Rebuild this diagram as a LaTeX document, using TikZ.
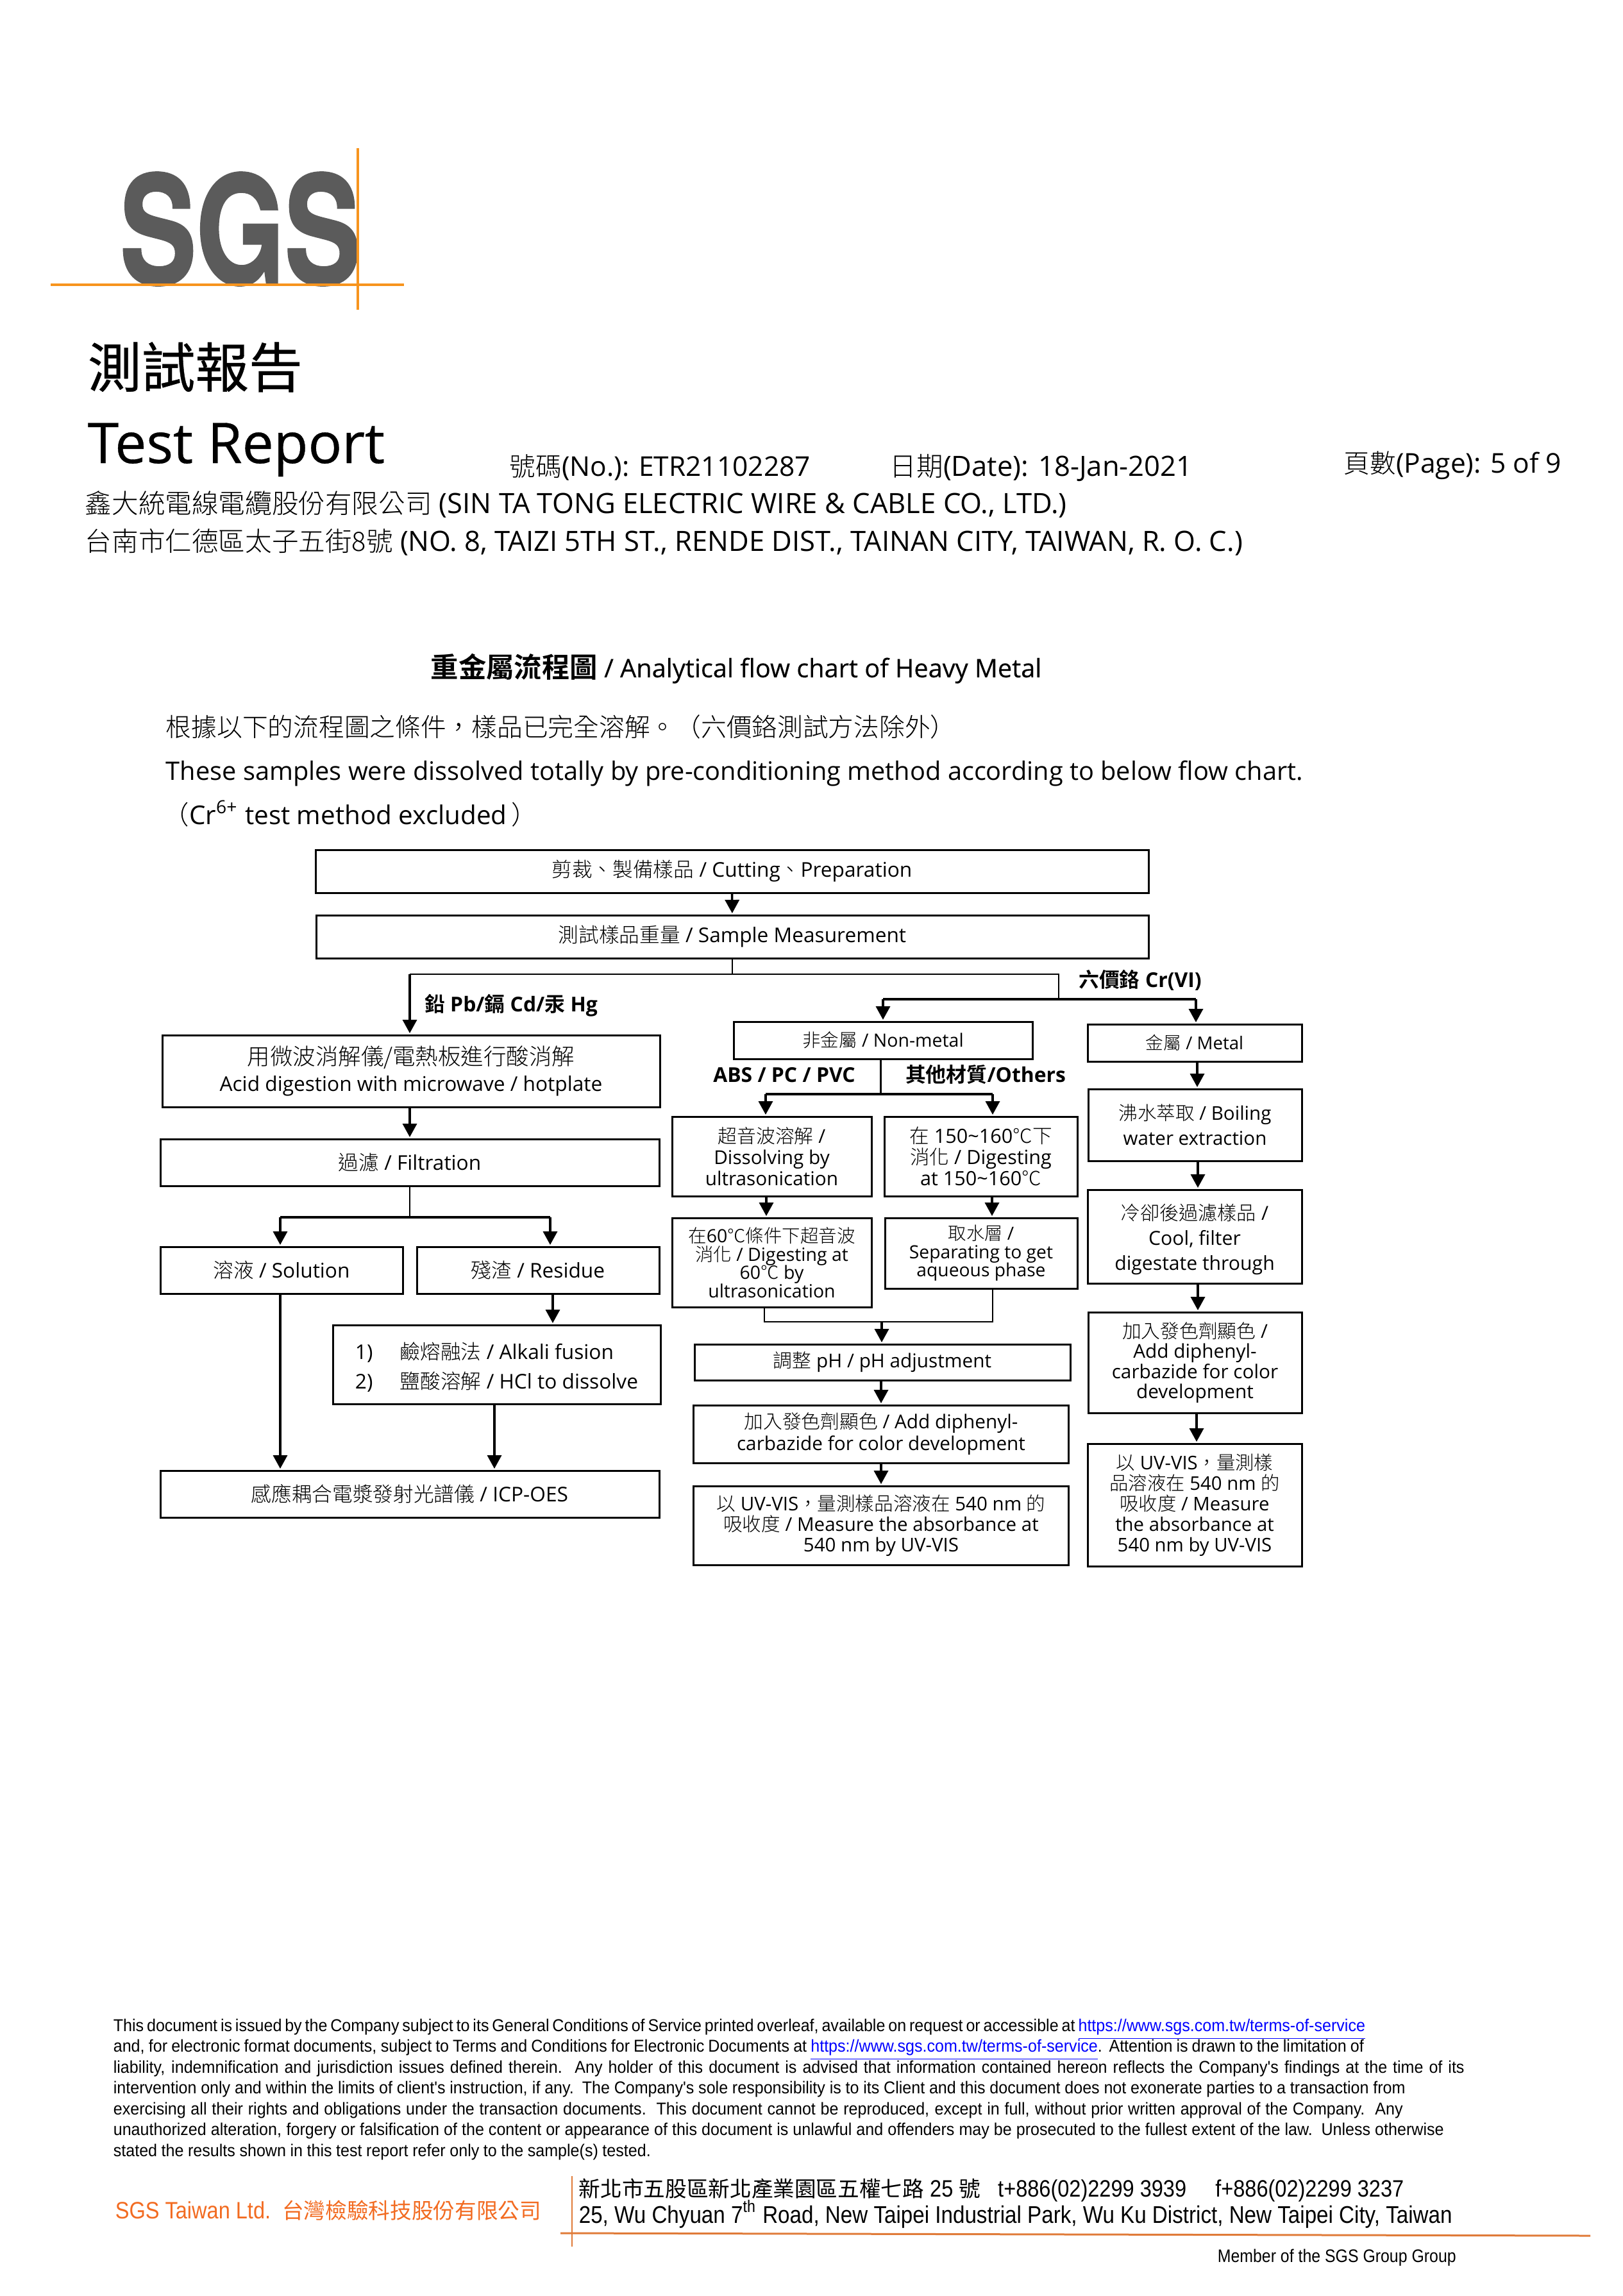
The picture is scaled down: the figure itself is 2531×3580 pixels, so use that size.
\documentclass[tikz,border=0pt]{standalone}
\usepackage{fontspec}
\usepackage{xcolor}
\usetikzlibrary{arrows.meta}
\setmainfont{Open Sans}
\newfontfamily\semifont[FakeBold=0.4]{Open Sans}
\newfontfamily\cjk[BoldFont={Noto Sans CJK TC Bold}]{Noto Sans CJK TC Light}
\newfontfamily\headzh[Scale=0.955]{Noto Sans CJK TC Light}
\newfontfamily\flowzh[Scale=1.12]{Noto Sans CJK TC Light}
\newfontfamily\titlezh[FakeBold=0.5]{Noto Sans CJK TC}
\newfontfamily\finefont[FakeStretch=0.937]{Liberation Sans}
\newfontfamily\finecjk[Scale=0.91]{Noto Sans CJK TC}
\newfontfamily\footfont[FakeStretch=0.88]{Liberation Sans}
\newfontfamily\logofont[FakeBold=1.6]{TeX Gyre Heros Bold}
\newlength{\px}
\setlength{\px}{0.2353pt}
\definecolor{sgsorange}{HTML}{F7941D}
\definecolor{sgsgray}{HTML}{5B5B5B}
\definecolor{footorange}{HTML}{F26B21}
\definecolor{ruleorange}{HTML}{E07B39}
\newcommand{\fineline}[4]{\node[finetext] (#1) at (176,#2) {\spaceskip=.18em plus 1fil\relax\makebox[#3\px][s]{#4}};}
\newcommand{\tolink}{\textcolor{blue}{\underline{https://www.sgs.com.tw/terms-of-service}}}

\begin{document}
\begin{tikzpicture}[
    x=\px, y=-\px,
    flowbox/.style 2 args={draw, line width=3*\px, inner sep=0pt, outer sep=0pt, align=center, minimum width=#1*\px, minimum height=#2*\px, font=\fontsize{7.45}{9}\selectfont},
    textsize/.style 2 args={font=\fontsize{#1}{#2}\selectfont},
    conn/.style={line width=3.5*\px, shorten <=2*\px},
    arr/.style={conn, -{Triangle[length=4.94pt, width=5.18pt]}, shorten >=3*\px},
    thinconn/.style={line width=2.5*\px},
    boldtag/.style={inner sep=0pt, font=\fontsize{7.5}{9}\selectfont\bfseries},
    headtext/.style={anchor=base west, inner sep=0pt, font=\fontsize{10.25}{12}\selectfont},
    bodytext/.style={anchor=base west, inner sep=0pt, font=\fontsize{9.35}{12}\selectfont},
    finetext/.style={anchor=base west, inner sep=0pt, font=\fontsize{6.3}{7.7}\finefont},
    foottext/.style={anchor=base west, inner sep=0pt, font=\fontsize{8.7}{9}\footfont}
]

\useasboundingbox (0,0) rectangle (2531,3580);

\node[inner sep=0pt, text=sgsgray, font=\fontsize{55}{60}\logofont] (logo) at (375,357) {\scalebox{0.76}[1]{SGS}};
\coordinate (logoleft) at (79,444);
\coordinate (logoright) at (630,444);
\coordinate (logotop) at (558,231);
\coordinate (logobottom) at (558,483);
\draw[sgsorange, line width=4.5*\px] (logoleft) -- (logoright);
\draw[sgsorange, line width=4.5*\px] (logotop) -- (logobottom);

\node[anchor=base west, inner sep=0pt, font=\fontsize{19.7}{24}\titlezh] (zhtitle) at (136,604) {測試報告};
\node[anchor=base west, inner sep=0pt, font=\fontsize{20.6}{24}\semifont] (entitle) at (136,722) {Test Report};
\node[headtext, font=\fontsize{10}{12}\selectfont] (reportno) at (794,742) {{\headzh 號碼}(No.): ETR21102287};
\node[headtext] (reportdate) at (1387,742) {{\headzh 日期}(Date): 18-Jan-2021};
\node[headtext, font=\fontsize{10}{12}\selectfont] (reportpage) at (2095,737) {{\headzh 頁數}(Page): 5 of 9};
\node[headtext] (company) at (132,800) {{\headzh 鑫大統電線電纜股份有限公司} (SIN TA TONG ELECTRIC WIRE \& CABLE CO., LTD.)};
\node[headtext] (address) at (132,859) {{\headzh 台南市仁德區太子五街8號} (NO. 8, TAIZI 5TH ST., RENDE DIST., TAINAN CITY, TAIWAN, R. O. C.)};

\node[anchor=base west, inner sep=0pt, font=\fontsize{9.35}{12}\semifont] (charttitle) at (671,1056) {{\fontsize{10.2}{12}\cjk\bfseries 重金屬流程圖} / Analytical flow chart of Heavy Metal};
\node[bodytext] (introzh) at (258,1148) {{\cjk 根據以下的流程圖之條件，樣品已完全溶解。（六價鉻測試方法除外）}};
\node[bodytext] (introen) at (258,1216) {These samples were dissolved totally by pre-conditioning method according to below flow chart.};
\node[bodytext, font=\fontsize{9.5}{12}\selectfont] (introcr) at (254,1285) {{\cjk （}Cr\textsuperscript{6+} test method excluded\,{\cjk ）}};

\node[flowbox={1299}{67}] (cut) at (1141.5,1358.5) {{\cjk 剪裁、製備樣品} / Cutting{\cjk 、}Preparation};
\node[flowbox={1298}{67}] (weigh) at (1142,1460.5) {{\cjk 測試樣品重量} / Sample Measurement};
\node[flowbox={776}{112}, textsize={7.45}{9.7}] (acid) at (641,1670) {{\flowzh 用微波消解儀/電熱板進行酸消解}\\Acid digestion with microwave / hotplate};
\node[flowbox={778}{73}] (filter) at (639,1812.5) {{\cjk 過濾} / Filtration};
\node[flowbox={378}{73}] (solution) at (439,1980.5) {{\cjk 溶液} / Solution};
\node[flowbox={378}{73}] (residue) at (839,1980.5) {{\cjk 殘渣} / Residue};
\node[flowbox={511}{123}, textsize={7.45}{10.7}, align=left] (alkali) at (774.5,2127.5) {\rule{0pt}{8.3pt}\makebox[70\px][l]{1)}{\cjk 鹼熔融法} / Alkali fusion\\\makebox[70\px][l]{2)}{\cjk 鹽酸溶解} / HCl to dissolve};
\node[flowbox={778}{73}] (icp) at (639,2329.5) {{\cjk 感應耦合電漿發射光譜儀} / ICP-OES};

\node[flowbox={466}{58}, textsize={6.7}{8}] (nonmetal) at (1377,1622) {{\cjk 非金屬} / Non-metal};
\node[flowbox={311}{124}, textsize={7}{7.7}] (ultra) at (1203.5,1803) {{\cjk 超音波溶解} /\\Dissolving by\\ultrasonication};
\node[flowbox={301}{124}, textsize={7.2}{7.7}] (digest) at (1529.5,1803) {{\cjk 在} 150\textasciitilde160{\cjk ℃下}\\{\cjk 消化} / Digesting\\at 150\textasciitilde160{\cjk ℃}};
\node[flowbox={311}{139}, textsize={6.7}{6.7}] (sixty) at (1203.5,1968.5) {{\cjk 在}60{\cjk ℃條件下超音波}\\{\cjk 消化} / Digesting at\\60{\cjk ℃} by\\ultrasonication};
\node[flowbox={300}{110}, textsize={6.65}{6.7}] (separate) at (1530,1954) {{\cjk 取水層} /\\Separating to get\\aqueous phase};
\node[flowbox={586}{56}, textsize={7}{8}] (ph) at (1376,2124) {{\cjk 調整} pH / pH adjustment};
\node[flowbox={585}{90}, textsize={7}{7}] (addleft) at (1374,2236) {{\cjk 加入發色劑顯色} / Add diphenyl-\\carbazide for color development};
\node[flowbox={585}{123}, textsize={6.95}{7.6}] (uvleft) at (1374,2378.5) {{\cjk 以} UV-VIS{\cjk ，量測樣品溶液在} 540 nm {\cjk 的}\\{\cjk 吸收度} / Measure the absorbance at\\540 nm by UV-VIS};

\node[flowbox={334}{58}, textsize={6.5}{8}] (metal) at (1863,1626) {{\cjk 金屬} / Metal};
\node[flowbox={333}{112}, textsize={6.95}{9.2}] (boil) at (1863.5,1754) {{\cjk 沸水萃取} / Boiling\\water extraction};
\node[flowbox={334}{146}, textsize={7.1}{9.1}] (cool) at (1863,1928) {\rule{0pt}{8.1pt}{\cjk 冷卻後過濾樣品} /\\Cool, filter\\digestate through};
\node[flowbox={333}{157}, textsize={7}{7.4}] (addright) at (1863.5,2124.5) {{\cjk 加入發色劑顯色} /\\Add diphenyl-\\carbazide for color\\development};
\node[flowbox={334}{191}, textsize={6.9}{7.5}] (uvright) at (1863,2346.5) {{\cjk 以} UV-VIS{\cjk ，量測樣}\\{\cjk 品溶液在} 540 nm {\cjk 的}\\{\cjk 吸收度} / Measure\\the absorbance at\\540 nm by UV-VIS};

\node[boldtag] (tagheavy) at (797,1568) {{\cjk 鉛} Pb/{\cjk 鎘} Cd/{\cjk 汞} Hg};
\node[boldtag] (tagcr) at (1778,1528) {{\cjk 六價鉻} Cr(VI)};
\node[boldtag] (tagabs) at (1223,1676) {ABS / PC / PVC};
\node[boldtag] (tagother) at (1537,1675) {{\cjk 其他材質}/Others};

\draw[arr] (cut) -- (weigh);

\coordinate (splitleft) at (639,1519);
\coordinate (splitright) at (1651,1519);
\coordinate (crdrop) at (1651,1558);
\coordinate (crleft) at (1377,1558);
\coordinate (crright) at (1865,1558);
\draw[thinconn] (weigh.south) -- (weigh.south |- splitleft);
\draw[thinconn] (splitleft) -- (splitright) -- (crdrop);
\draw[conn, shorten <=0pt] (crleft) -- (crright);
\draw[arr, shorten <=0pt] (splitleft) -- (splitleft |- acid.north);
\draw[arr, shorten <=0pt] (crleft) -- (crleft |- nonmetal.north);
\draw[arr, shorten <=0pt] (crright) -- (crright |- metal.north);

\draw[arr] (acid.south -| filter.south) -- (filter.north);
\coordinate (filtersplit) at (639,1898);
\coordinate (tosolution) at (437,1898);
\coordinate (toresidue) at (858,1898);
\draw[thinconn] (filter.south) -- (filtersplit);
\draw[conn, shorten <=0pt] (tosolution) -- (toresidue);
\draw[arr, shorten <=0pt] (tosolution) -- (tosolution |- solution.north);
\draw[arr, shorten <=0pt] (toresidue) -- (toresidue |- residue.north);
\coordinate (residuedrop) at (862,2017);
\draw[arr] (residuedrop) -- (residuedrop |- alkali.north);
\coordinate (solutiondrop) at (437,2017);
\draw[arr] (solutiondrop) -- (solutiondrop |- icp.north);
\coordinate (alkalidrop) at (771,2189);
\draw[arr] (alkalidrop) -- (alkalidrop |- icp.north);

\coordinate (nonmetaldrop) at (1373.5,1706);
\coordinate (toultra) at (1194,1706);
\coordinate (todigest) at (1548,1706);
\draw[thinconn] (nonmetal.south -| nonmetaldrop) -- (nonmetaldrop);
\draw[conn, shorten <=0pt] (toultra) -- (todigest);
\draw[arr, shorten <=0pt] (toultra) -- (toultra |- ultra.north);
\draw[arr, shorten <=0pt] (todigest) -- (todigest |- digest.north);
\coordinate (ultradrop) at (1195,1865);
\coordinate (digestdrop) at (1547,1865);
\draw[arr] (ultradrop) -- (ultradrop |- sixty.north);
\draw[arr] (digestdrop) -- (digestdrop |- separate.north);

\coordinate (joinleft) at (1192,2061);
\coordinate (joinright) at (1548,2061);
\coordinate (joinmid) at (1375,2061);
\draw[thinconn] (sixty.south -| joinleft) -- (joinleft) -- (joinright) -- (separate.south -| joinright);
\draw[arr, shorten <=0pt] (joinmid) -- (joinmid |- ph.north);
\draw[arr] (ph.south -| addleft.north) -- (addleft.north);
\draw[arr] (addleft) -- (uvleft);

\coordinate (metaldrop) at (1867,1655);
\coordinate (boildrop) at (1868,1810);
\coordinate (cooldrop) at (1868,2001);
\coordinate (adddrop) at (1866,2203);
\draw[arr] (metaldrop) -- (metaldrop |- boil.north);
\draw[arr] (boildrop) -- (boildrop |- cool.north);
\draw[arr] (cooldrop) -- (cooldrop |- addright.north);
\draw[arr] (adddrop) -- (adddrop |- uvright.north);

\fineline{fineone}{3167}{1950}{This document is issued by the Company subject to its General Conditions of Service printed overleaf, available on request or accessible at \tolink}
\fineline{finetwo}{3199}{1950}{and, for electronic format documents, subject to Terms and Conditions for Electronic Documents at \tolink. Attention is drawn to the limitation of}
\fineline{finethree}{3232}{2107}{liability, indemnification and jurisdiction issues defined therein. Any holder of this document is advised that information contained hereon reflects the Company's findings at the time of its}
\fineline{finefour}{3264}{2015}{intervention only and within the limits of client's instruction, if any. The Company's sole responsibility is to its Client and this document does not exonerate parties to a transaction from}
\fineline{finefive}{3297}{2011}{exercising all their rights and obligations under the transaction documents. This document cannot be reproduced, except in full, without prior written approval of the Company. Any}
\fineline{finesix}{3329}{2075}{unauthorized alteration, forgery or falsification of the content or appearance of this document is unlawful and offenders may be prosecuted to the fullest extent of the law. Unless otherwise}
\fineline{fineseven}{3362}{838}{stated the results shown in this test report refer only to the sample(s) tested.}

\node[foottext, text=footorange] (footname) at (179,3459) {SGS Taiwan Ltd.\ \ {\finecjk 台灣檢驗科技股份有限公司}};
\coordinate (ruletop) at (892,3393);
\coordinate (rulebottom) at (892,3503);
\coordinate (ruleleft) at (874,3482);
\coordinate (ruleright) at (2480,3486);
\draw[ruleorange, line width=2*\px] (ruletop) -- (rulebottom);
\draw[ruleorange, line width=3*\px] (ruleleft) -- (ruleright);
\node[foottext] (footzh) at (902,3425) {{\finecjk 新北市五股區新北產業園區五權七路} 25 {\finecjk 號}\ \ \ t+886(02)2299 3939\ \ \ \ \ f+886(02)2299 3237};
\node[foottext, font=\fontsize{8.87}{9}\footfont] (footen) at (902,3466) {25, Wu Chyuan 7\textsuperscript{th} Road, New Taipei Industrial Park, Wu Ku District, New Taipei City, Taiwan};
\node[foottext, font=\fontsize{6.65}{8}\footfont] (footmember) at (1898,3527) {Member of the SGS Group Group};

\end{tikzpicture}
\end{document}
